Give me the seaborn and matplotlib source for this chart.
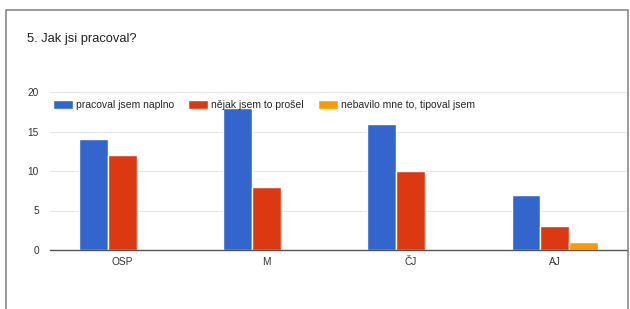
import numpy as np
import pandas as pd
import seaborn as sns
import matplotlib.pyplot as plt
from matplotlib.patches import Rectangle

# values
subjects = ["OSP", "M", "ČJ", "AJ"]
series_names = ["pracoval jsem naplno", "nějak jsem to prošel", "nebavilo mne to, tipoval jsem"]
naplno = [14, 18, 16, 7]
prosel = [12, 8, 10, 3]
tipoval = [0, 0, 0, 1]
colors = ["#3366cc", "#dc3912", "#ff9900"]

df = pd.DataFrame({
    "predmet": subjects * 3,
    "odpoved": np.repeat(series_names, len(subjects)),
    "pocet": naplno + prosel + tipoval,
})

sns.set_style("white")
plt.rcParams["font.family"] = ["Liberation Sans", "DejaVu Sans"]

fig = plt.figure(figsize=(6.3, 3.09), dpi=100)
ax = fig.add_axes([50 / 630, 1 - 250 / 309, 577 / 630, 158 / 309])

sns.barplot(data=df, x="predmet", y="pocet", hue="odpoved", palette=colors,
            width=0.6, ax=ax, saturation=1, legend=True)

ax.set_ylim(0, 20)
ax.set_yticks([0, 5, 10, 15, 20])
ax.set_xlim(-0.5, 3.5)
ax.yaxis.grid(True, color="#e6e6e6", linewidth=0.8)
ax.set_axisbelow(True)
for s in ["top", "right", "left"]:
    ax.spines[s].set_visible(False)
ax.spines["bottom"].set_color("#555555")
ax.spines["bottom"].set_linewidth(1)
ax.tick_params(axis="both", length=0, labelsize=7.3, colors="#333333")
ax.tick_params(axis="y", pad=8)
ax.tick_params(axis="x", pad=5)
ax.set_xlabel("")
ax.set_ylabel("")

ax.legend(loc="upper left", bbox_to_anchor=(-0.005, 0.99), ncol=3, frameon=False,
          fontsize=7.5, handlelength=1.9, handleheight=1.0, columnspacing=1.35,
          handletextpad=0.3, borderaxespad=0.2)

fig.text(27 / 630, 1 - 39 / 309, "5. Jak jsi pracoval?", fontsize=9.3,
         va="center", ha="left", color="#222222")

fig.patches.append(Rectangle((6 / 630, -0.05), 622 / 630, 1.05 - 10 / 309,
                             transform=fig.transFigure, fill=False,
                             edgecolor="#888888", linewidth=1.2))

fig.savefig("out.png", dpi=100)
